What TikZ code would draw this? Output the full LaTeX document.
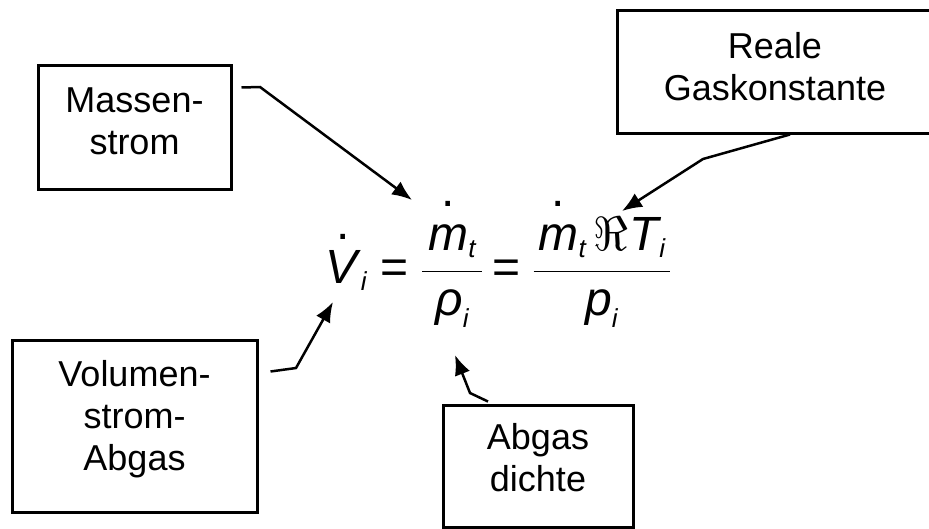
\RequirePackage{fix-cm}
\documentclass[tikz,border=0pt]{standalone}
\usepackage{amsmath}
\usepackage{fontspec}
\setmainfont{Liberation Sans}
\usetikzlibrary{arrows.meta}
\DeclareMathSizes{48}{48}{26}{20}
\newcommand{\hdot}[1]{\mbox{\ooalign{\hfil\raisebox{44pt}{.}\hfil\cr\textit{#1}\cr}}}
\newcommand{\bottomgap}[1]{\rule[-#1]{0pt}{#1}}

\begin{document}
\begin{tikzpicture}[x=1pt,y=-1pt,>={Latex[length=20pt,width=16pt]},
  box/.style={draw,line width=3pt,align=center,inner sep=0pt,font=\fontsize{36}{42}\selectfont},
  arr/.style={->,line width=2.5pt}]
\useasboundingbox (0,0) rectangle (929,528);
\node[box,minimum width=193,minimum height=124] (mass) at (134.5,127) {Massen-\\strom\bottomgap{12pt}};
\node[box,minimum width=316,minimum height=123] (gas) at (775,71.5) {Reale\\Gaskonstante\bottomgap{11pt}};
\node[box,minimum width=245,minimum height=172] (vol) at (134.5,426) {Volumen-\\strom-\\Abgas\bottomgap{22pt}};
\node[box,minimum width=190,minimum height=122] (dichte) at (538,466) {Abgas\\dichte\bottomgap{18pt}};
% formula
\node[anchor=base west,inner sep=0pt,font=\fontsize{48}{56}\selectfont] (eq) at (325,283)
  {$\displaystyle \hdot{V}_{\textit{i}}\hspace{13pt}\text{=}\hspace{13pt}
   {\frac{\hspace{6pt}\hdot{m}_{\textit{t}}\hspace{6pt}}{\textit{ρ}_{\textit{i}}}}\hspace{9pt}\text{=}\hspace{12pt}
   {\frac{\hspace{5pt}\hdot{m}_{\textit{t}}\hspace{7pt}\Re\hspace{2pt}\textit{T}_{\textit{i}}\hspace{4pt}}{\textit{p}_{\textit{i}}}}$};
% arrows
\coordinate[xshift=9pt,yshift=-24pt] (m1) at (mass.north east);
\coordinate (m2) at (260,87);
\coordinate (m3) at (412,200);
\coordinate[xshift=15pt] (g1) at (gas.south);
\coordinate (g2) at (703,159);
\coordinate (g3) at (622,211);
\coordinate[xshift=12pt,yshift=-33pt] (v1) at (vol.north east);
\coordinate (v2) at (296,368);
\coordinate (v3) at (333,302);
\coordinate[xshift=-50pt,yshift=2pt] (d1) at (dichte.north);
\coordinate (d2) at (470,393);
\coordinate (d3) at (455,355);
\draw[arr] (m1) -- (m2) -- (m3);
\draw[arr] (g1) -- (g2) -- (g3);
\draw[arr] (v1) -- (v2) -- (v3);
\draw[arr] (d1) -- (d2) -- (d3);
\end{tikzpicture}
\end{document}
